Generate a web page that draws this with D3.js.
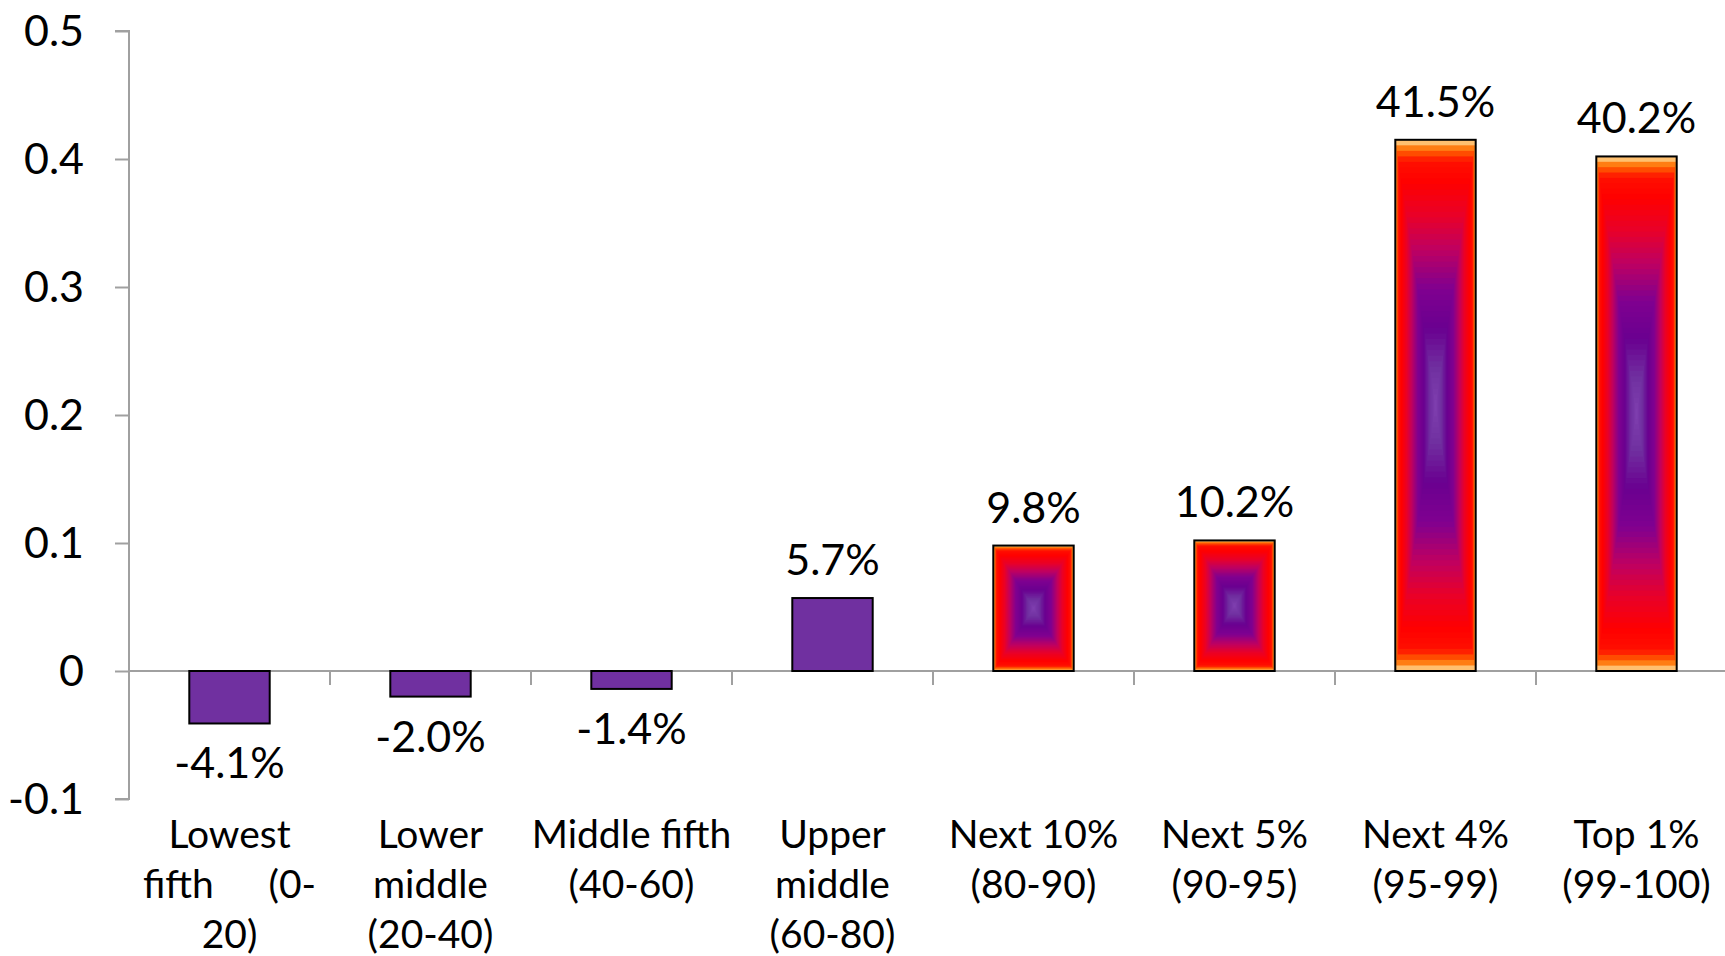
<!DOCTYPE html>
<html>
  <head>
    <meta charset="utf-8">
    <script src="https://d3js.org/d3.v7.min.js"></script>
    <style>
      body { margin: 0; background: #fff; }
      svg text { font-family: Lato, "Open Sans", sans-serif; fill: #000; }
      .axis line, .axis path { stroke: #a0a0a0; stroke-width: 2; }
    </style>
  </head>
<body>
  <script type="text/javascript">
    // chart data
    var categories = [
      "Lowest\nfifth (0-\n20)",
      "Lower\nmiddle\n(20-40)",
      "Middle fifth\n(40-60)",
      "Upper\nmiddle\n(60-80)",
      "Next 10%\n(80-90)",
      "Next 5%\n(90-95)",
      "Next 4%\n(95-99)",
      "Top 1%\n(99-100)"
    ];
    var values = [-0.041, -0.020, -0.014, 0.057, 0.098, 0.102, 0.415, 0.402];
    var yTicks = [-0.1, 0, 0.1, 0.2, 0.3, 0.4, 0.5];
    var yTickLabels = ["-0.1", "0", "0.1", "0.2", "0.3", "0.4", "0.5"];

    var width = 1725,
        height = 956,
        gradientFrom = 4; // bars from this index on get the "fill effect"

    var svg = d3.select("body")
      .append("svg")
        .attr("width", width)
        .attr("height", height);

    var x = d3.scaleBand()
      .domain(categories)
      .range([129, 1737])
      .paddingInner(0.6)
      .paddingOuter(0.3);
    var step = x.step();

    var y = d3.scaleLinear()
      .domain([-0.1, 0.5])
      .range([799, 31]);

    //
    // axes
    //
    var yAxis = svg.append("g")
      .attr("class", "axis")
      .attr("transform", "translate(129,0)")
      .call(d3.axisLeft(y).tickValues(yTicks).tickSize(14).tickFormat(""));
    yAxis.select(".domain").attr("d", "M-14," + y(0.5) + "H0V" + y(-0.1) + "H-14");

    svg.append("g")
      .selectAll("text")
      .data(yTicks)
      .enter()
      .append("text")
        .attr("x", 84)
        .attr("y", function(d) { return y(d); })
        .attr("dy", "0.36em")
        .attr("text-anchor", "end")
        .attr("font-size", 43)
        .text(function(d, i) { return yTickLabels[i]; });

    // zero line with category separators
    var xAxis = svg.append("g").attr("class", "axis");
    xAxis.append("line")
      .attr("x1", 129).attr("x2", width)
      .attr("y1", y(0)).attr("y2", y(0));
    xAxis.selectAll("line.sep")
      .data(categories.slice(1))
      .enter()
      .append("line")
        .attr("class", "sep")
        .attr("x1", function(d) { return x(d) - step * 0.3; })
        .attr("x2", function(d) { return x(d) - step * 0.3; })
        .attr("y1", y(0))
        .attr("y2", y(0) + 14);

    //
    // bars
    //
    var color = d3.scaleLinear()
      .domain([0, 0.15, 0.3, 0.45, 0.6, 0.72, 0.85, 0.93, 0.975, 1])
      .range(["#8040b0", "#7030a0", "#6a0090", "#800090", "#c00060", "#e8002a", "#ff0000", "#ff1000", "#ff7000", "#ffc070"])
      .interpolate(d3.interpolateRgb);
    var steps = d3.range(48, 0, -1).map(function(k) { return k / 48; });

    var bars = svg.append("g")
      .selectAll("g")
      .data(values)
      .enter()
      .append("g");

    bars.each(function(d, i) {
      var g = d3.select(this),
          bx = x(categories[i]),
          bw = x.bandwidth(),
          by = y(Math.max(d, 0)),
          bh = Math.abs(y(d) - y(0));
      if (i < gradientFrom) {
        g.append("rect")
          .attr("x", bx).attr("y", by)
          .attr("width", bw).attr("height", bh)
          .attr("fill", "#7030a0");
      } else {
        // nested rectangles imitate the rectangular path gradient
        var cx = bx + bw / 2, cy = by + bh / 2;
        g.selectAll("rect.band")
          .data(steps)
          .enter()
          .append("rect")
            .attr("class", "band")
            .attr("x", function(s) { return cx - bw * s / 2; })
            .attr("y", function(s) { return cy - bh * s / 2; })
            .attr("width", function(s) { return bw * s; })
            .attr("height", function(s) { return bh * s; })
            .attr("fill", function(s) { return color(s); });
      }
      g.append("rect")
        .attr("x", bx).attr("y", by)
        .attr("width", bw).attr("height", bh)
        .attr("fill", "none")
        .attr("stroke", "#000")
        .attr("stroke-width", 2);
    });

    // value labels
    svg.append("g")
      .selectAll("text")
      .data(values)
      .enter()
      .append("text")
        .attr("x", function(d, i) { return x(categories[i]) + x.bandwidth() / 2; })
        .attr("y", function(d) { return d >= 0 ? y(d) - 23 : y(d) + 55; })
        .attr("text-anchor", "middle")
        .attr("font-size", 43)
        .text(function(d) { return (d * 100).toFixed(1) + "%"; });

    //
    // category labels, wrapped on several lines
    //
    var labelWidth = 173;
    var cats = svg.append("g")
      .selectAll("g")
      .data(categories)
      .enter()
      .append("g")
        .attr("transform", function(d) { return "translate(" + (x(d) + x.bandwidth() / 2) + ",0)"; });

    cats.each(function(d, i) {
      var g = d3.select(this),
          lines = d.split("\n");
      lines.forEach(function(line, j) {
        var words = line.split(" "),
            ly = 848 + j * 50;
        if (i === 0 && j === 1) {
          // this line is justified across the label width
          g.append("text").attr("x", -labelWidth / 2).attr("y", ly)
            .attr("font-size", 39).attr("text-anchor", "start").text(words[0]);
          g.append("text").attr("x", labelWidth / 2).attr("y", ly)
            .attr("font-size", 39).attr("text-anchor", "end").text(words.slice(1).join(" "));
        } else {
          g.append("text").attr("x", 0).attr("y", ly)
            .attr("font-size", 39).attr("text-anchor", "middle").text(line);
        }
      });
    });
  </script>
</body>
</html>
